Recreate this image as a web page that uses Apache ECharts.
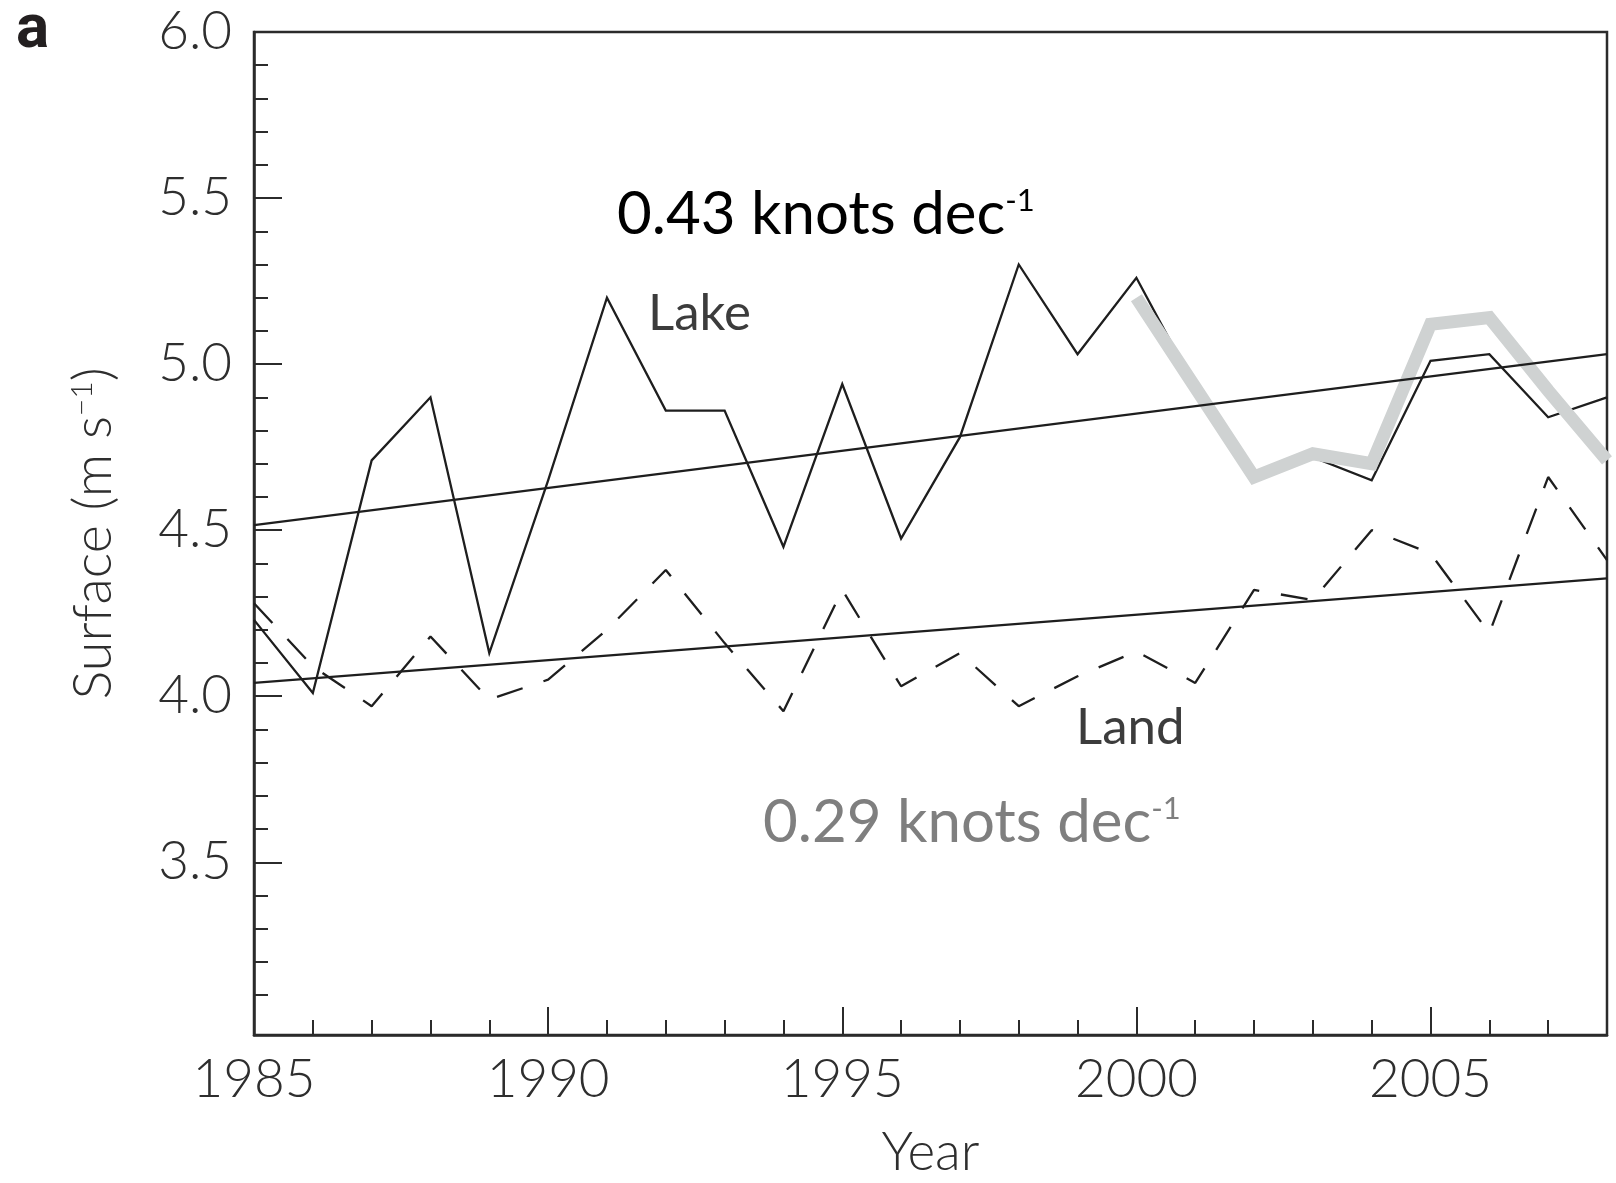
<!DOCTYPE html>
<html>
<head>
<meta charset="utf-8">
<script src="https://cdn.jsdelivr.net/npm/echarts@6/dist/echarts.min.js"></script>
<style>
  html, body { margin: 0; padding: 0; background: #ffffff; }
  #chart { width: 1616px; height: 1183px; }
</style>
</head>
<body>
<div id="chart"></div>
<script>
// Annual mean surface wind speed (m s-1), 1985–2008
const years = [1985, 1986, 1987, 1988, 1989, 1990, 1991, 1992, 1993, 1994, 1995, 1996,
               1997, 1998, 1999, 2000, 2001, 2002, 2003, 2004, 2005, 2006, 2007, 2008];
const lake = [4.23, 4.01, 4.71, 4.90, 4.13, 4.65, 5.20, 4.86, 4.86, 4.45, 4.94, 4.475,
              4.78, 5.30, 5.03, 5.26, 4.93, 4.66, 4.72, 4.65, 5.01, 5.03, 4.84, 4.90];
const land = [4.28, 4.09, 3.97, 4.18, 3.99, 4.05, 4.20, 4.38, 4.16, 3.955, 4.32, 4.03,
              4.13, 3.97, 4.06, 4.135, 4.04, 4.32, 4.29, 4.50, 4.43, 4.19, 4.66, 4.41];
// Thick grey record over the lake, 2000 onwards
const lakeRecent = [null, null, null, null, null, null, null, null, null, null, null, null,
                    null, null, null, 5.20, 4.93, 4.66, 4.73, 4.70, 5.12, 5.14, 4.92, 4.71];

// Linear trends (end points)
const trendYears = [1985, 2008];
const lakeTrend = [4.515, 5.03];
const landTrend = [4.04, 4.355];

// Axis ticks and labels
const xMajorTicks = [1985, 1990, 1995, 2000, 2005];
const xMinorTicks = [1986, 1987, 1988, 1989, 1991, 1992, 1993, 1994, 1996, 1997, 1998, 1999,
                     2001, 2002, 2003, 2004, 2006, 2007];
const yLabels = [3.5, 4.0, 4.5, 5.0, 5.5, 6.0];
const yMajorTicks = [3.5, 4.0, 4.5, 5.0, 5.5];
const yMinorTicks = [3.1, 3.2, 3.3, 3.4, 3.6, 3.7, 3.8, 3.9, 4.1, 4.2, 4.3, 4.4,
                     4.6, 4.7, 4.8, 4.9, 5.1, 5.2, 5.3, 5.4, 5.6, 5.7, 5.8, 5.9];

const pairs = (xs, ys) => xs.map((x, i) => [x, ys[i]]);

const FONT = 'Lato, "Open Sans", sans-serif';
const AX = '#2b2b2b';
const TXT = '#2e2e2e';
const LABEL = '#3c3c3c';
const INK = '#1e1e1e';

const chart = echarts.init(document.getElementById('chart'), null, { renderer: 'canvas' });

const X_MIN = 1985, X_MAX = 2008, Y_MIN = 2.98, Y_MAX = 6.0;

const option = {
  animation: false,
  backgroundColor: '#ffffff',
  grid: {
    left: 254, top: 32, width: 1353, height: 1003,
    containLabel: false,
    outerBoundsMode: 'none',
    show: true, borderColor: AX, borderWidth: 2.5, backgroundColor: 'transparent'
  },
  xAxis: [
    {
      type: 'value', min: X_MIN, max: X_MAX, position: 'bottom',
      axisLine: { show: true, onZero: false, lineStyle: { color: AX, width: 2.5 } },
      axisTick: { show: true, inside: true, length: 28, customValues: xMajorTicks,
                  lineStyle: { color: AX, width: 2 } },
      axisLabel: { show: true, customValues: xMajorTicks, margin: 18,
                   fontSize: 53, fontWeight: 300, fontFamily: FONT, color: TXT, formatter: v => String(v) },
      splitLine: { show: false },
      name: 'Year', nameLocation: 'middle', nameGap: 91,
      nameTextStyle: { fontSize: 53, fontWeight: 300, fontFamily: FONT, color: TXT }
    },
    {
      type: 'value', min: X_MIN, max: X_MAX, position: 'bottom',
      axisLine: { show: false, onZero: false },
      axisTick: { show: true, inside: true, length: 15, customValues: xMinorTicks,
                  lineStyle: { color: AX, width: 2 } },
      axisLabel: { show: false },
      splitLine: { show: false }
    }
  ],
  yAxis: [
    {
      type: 'value', min: Y_MIN, max: Y_MAX, position: 'left',
      axisLine: { show: true, onZero: false, lineStyle: { color: AX, width: 2.5 } },
      axisTick: { show: true, inside: true, length: 28, customValues: yMajorTicks,
                  lineStyle: { color: AX, width: 2 } },
      axisLabel: { show: true, customValues: yLabels, margin: 22,
                   fontSize: 53, fontWeight: 300, fontFamily: FONT, color: TXT, formatter: v => v.toFixed(1) },
      splitLine: { show: false },
      name: '{a|Surface (m s}{b|\u22121}{a|)}',
      nameLocation: 'middle', nameRotate: 90, nameGap: 133,
      nameTextStyle: {
        rich: {
          a: { fontSize: 54, fontWeight: 300, fontFamily: FONT, color: TXT, lineHeight: 54 },
          b: { fontSize: 30, fontWeight: 300, fontFamily: FONT, color: TXT, lineHeight: 44, verticalAlign: 'top' }
        }
      }
    },
    {
      type: 'value', min: Y_MIN, max: Y_MAX, position: 'left',
      axisLine: { show: false, onZero: false },
      axisTick: { show: true, inside: true, length: 14, customValues: yMinorTicks,
                  lineStyle: { color: AX, width: 2 } },
      axisLabel: { show: false },
      splitLine: { show: false }
    }
  ],
  series: [
    {
      name: 'Land', type: 'line', xAxisIndex: 0, yAxisIndex: 0,
      data: pairs(years, land), showSymbol: false, silent: true, z: 2,
      lineStyle: { color: INK, width: 2.3, type: [27, 22] }
    },
    {
      name: 'Lake', type: 'line', xAxisIndex: 0, yAxisIndex: 0,
      data: pairs(years, lake), showSymbol: false, silent: true, z: 2,
      lineStyle: { color: INK, width: 2.3, join: 'miter' }
    },
    {
      name: 'Lake 2000\u20132008', type: 'line', xAxisIndex: 0, yAxisIndex: 0,
      data: pairs(years, lakeRecent), showSymbol: false, silent: true, z: 3,
      connectNulls: false,
      lineStyle: { color: '#cfd2d2', width: 13, join: 'miter', cap: 'butt' }
    },
    {
      name: 'Lake trend', type: 'line', xAxisIndex: 0, yAxisIndex: 0,
      data: pairs(trendYears, lakeTrend), showSymbol: false, silent: true, z: 4,
      lineStyle: { color: INK, width: 2.3 }
    },
    {
      name: 'Land trend', type: 'line', xAxisIndex: 0, yAxisIndex: 0,
      data: pairs(trendYears, landTrend), showSymbol: false, silent: true, z: 4,
      lineStyle: { color: INK, width: 2.3 }
    }
  ],
  graphic: [
    {
      type: 'text', x: 16, y: 31, silent: true,
      style: { text: 'a', fontSize: 62, fontWeight: 'bold', fontFamily: 'Roboto, "Liberation Sans", sans-serif',
               fill: '#231f20', align: 'left', verticalAlign: 'middle' }
    },
    {
      type: 'text', x: 617, y: 215, silent: true,
      style: {
        text: '{t|0.43 knots dec}{s|-1}', align: 'left', verticalAlign: 'middle',
        rich: {
          t: { fontSize: 60, fontFamily: FONT, fill: '#000000', lineHeight: 60 },
          s: { fontSize: 31, fontFamily: FONT, fill: '#000000', lineHeight: 44, verticalAlign: 'top' }
        }
      }
    },
    {
      type: 'text', x: 648, y: 314, silent: true,
      style: { text: 'Lake', fontSize: 51, fontFamily: FONT, fill: LABEL, align: 'left', verticalAlign: 'middle' }
    },
    {
      type: 'text', x: 1076, y: 728, silent: true,
      style: { text: 'Land', fontSize: 51, fontFamily: FONT, fill: LABEL, align: 'left', verticalAlign: 'middle' }
    },
    {
      type: 'text', x: 763, y: 823, silent: true,
      style: {
        text: '{t|0.29 knots dec}{s|-1}', align: 'left', verticalAlign: 'middle',
        rich: {
          t: { fontSize: 60, fontFamily: FONT, fill: '#7f7f7f', lineHeight: 60 },
          s: { fontSize: 31, fontFamily: FONT, fill: '#7f7f7f', lineHeight: 44, verticalAlign: 'top' }
        }
      }
    }
  ]
};

chart.setOption(option);
</script>
</body>
</html>
